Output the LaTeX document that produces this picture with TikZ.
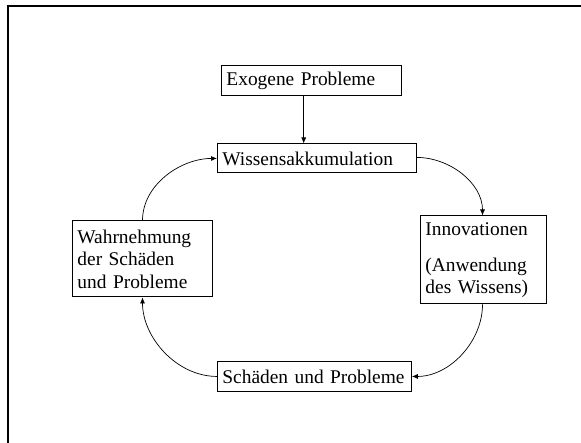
\documentclass[tikz,border=0pt]{standalone}
\usepackage{fontspec}
\setmainfont{Liberation Serif}
\usetikzlibrary{arrows.meta}
\begin{document}
\begin{tikzpicture}[x=1pt,y=-1pt,
  box/.style={draw, line width=0.9pt, inner sep=0pt, anchor=north west,
    font=\fontsize{19.4}{22.5}\selectfont, align=left},
  flow/.style={line width=0.7pt, -{Latex[length=6pt,width=5pt]}}]
\useasboundingbox (0,0) rectangle (581,443);
% open frame: top and left edges only
\draw[line width=2pt] (8,443) -- (8,6) -- (581,6);

\node[box, minimum width=180pt, minimum height=30pt, text width=170pt] (exo) at (221,65) {Exogene Probleme};
\node[box, minimum width=199pt, minimum height=29pt, text width=189pt] (wis) at (217,143.5) {Wissensakkumulation};
\node[box, minimum width=126pt, minimum height=88pt, text width=116pt] (inn) at (420,215.5) {Innovationen\\[13.5pt](Anwendung\\des Wissens)};
\node[box, minimum width=194pt, minimum height=30pt, text width=184pt] (sch) at (217,361) {Schäden und Probleme};
\node[box, minimum width=140pt, minimum height=76pt, text width=130pt] (wah) at (72,220.5) {Wahrnehmung\\der Schäden\\und Probleme};

\draw[flow] (exo.south -| 303.7,0) -- (wis.north -| 303.7,0);
\draw[flow] ([yshift=1pt]wis.east) to[out=0,in=90,looseness=0.95] (inn.north -| 482.5,0);
\draw[flow] (inn.south -| 482.5,0) to[out=-90,in=0,looseness=0.95] (sch.east);
\draw[flow] (sch.west) to[out=180,in=-90,looseness=0.95] (wah.south -| 142.5,0);
\draw[flow] (wah.north -| 142.5,0) to[out=90,in=180,looseness=0.95] (wis.west);
\end{tikzpicture}
\end{document}
